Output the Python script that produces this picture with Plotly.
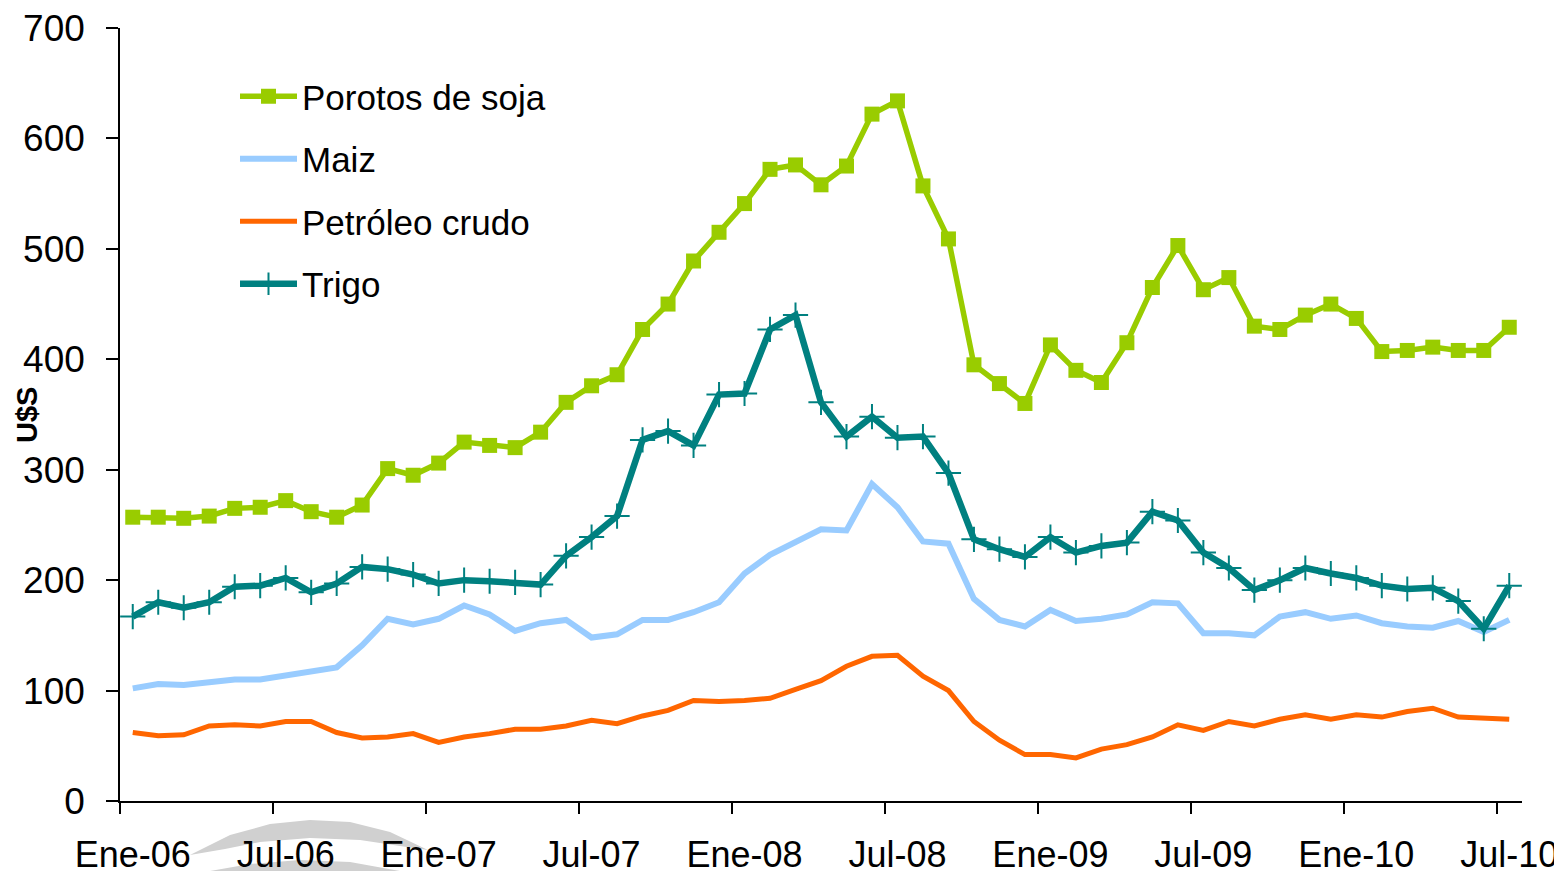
import plotly.graph_objects as go

# ---------------- data ----------------
years = ["06", "07", "08", "09", "10"]
month_names = ["Ene", "Feb", "Mar", "Abr", "May", "Jun", "Jul", "Ago", "Sep", "Oct", "Nov", "Dic"]
months = [f"{m}-{y}" for y in years for m in month_names][:55]  # Ene-06 .. Jul-10

soja = [257, 257, 256, 258, 265, 266, 272, 262, 257, 268, 301, 295,
        306, 325, 322, 320, 334, 361, 376, 386, 427, 450, 489, 515,
        541, 572, 576, 558, 575, 622, 634, 557, 509, 395, 378, 360,
        413, 390, 379, 415, 465, 503, 463, 474, 430, 427, 440, 450,
        437, 407, 408, 411, 408, 408, 429]

maiz = [102, 106, 105, 107, 110, 110, 114, 117, 121, 141, 165, 160,
        165, 177, 169, 154, 161, 164, 148, 151, 164, 164, 171, 180,
        206, 223, 235, 246, 245, 287, 266, 235, 233, 183, 164, 158,
        173, 163, 165, 169, 180, 179, 152, 152, 150, 167, 171, 165,
        168, 161, 158, 157, 163, 153, 164]

petroleo = [62, 59, 60, 68, 69, 68, 72, 72, 62, 57, 58, 61,
            53, 58, 61, 65, 65, 68, 73, 70, 77, 82, 91, 90,
            91, 93, 101, 109, 122, 131, 132, 113, 100, 72, 55, 42,
            42, 39, 47, 51, 58, 69, 64, 72, 68, 74, 78, 74,
            78, 76, 81, 84, 76, 75, 74]

trigo = [167, 180, 175, 180, 194, 195, 202, 189, 197, 212, 210, 205,
         197, 200, 199, 198, 196, 222, 239, 258, 327, 335, 322, 368,
         369, 427, 440, 361, 330, 348, 329, 330, 297, 237, 228, 221,
         239, 225, 231, 234, 262, 254, 225, 211, 191, 200, 211, 206,
         202, 195, 192, 193, 181, 156, 195]

series_names = ["Porotos de soja", "Maiz", "Petróleo crudo", "Trigo"]
y_ticks = [0, 100, 200, 300, 400, 500, 600, 700]
label_every = 6

# ---------------- figure ----------------
OFF = 8  # page body margin
W, H = 1562 - OFF, 871 - OFF
ML, MR, MT, MB = 120 - OFF, 40, 28 - OFF, 70
PW, PH = W - ML - MR, H - MT - MB
x = list(range(len(months)))
FONT = "Arial, 'Liberation Sans', sans-serif"

fig = go.Figure()
fig.add_trace(go.Scatter(
    x=x, y=soja, name=series_names[0], mode="lines+markers", legendgroup="a",
    line=dict(color="#99CC00", width=5.5),
    marker=dict(symbol="square", size=15, color="#99CC00")))
fig.add_trace(go.Scatter(
    x=x, y=maiz, name=series_names[1], mode="lines", legendgroup="b",
    line=dict(color="#99CCFF", width=6)))
fig.add_trace(go.Scatter(
    x=x, y=petroleo, name=series_names[2], mode="lines", legendgroup="c",
    line=dict(color="#FF6600", width=5)))
fig.add_trace(go.Scatter(
    x=x, y=trigo, name=series_names[3], mode="lines+markers", legendgroup="d",
    line=dict(color="#008080", width=6.5),
    marker=dict(symbol="cross-thin", size=18, color="#008080",
                line=dict(width=2, color="#008080"))))

tick_idx = x[::label_every]
fig.update_xaxes(
    range=[-0.5, len(months) - 0.5], automargin=False,
    tickmode="array", tickvals=tick_idx, ticktext=[months[i] for i in tick_idx],
    ticks="", showline=True, linecolor="black", linewidth=1.5,
    showgrid=False, zeroline=False, ticklabeloverflow="allow",
    tickfont=dict(family=FONT, size=36, color="black"),
    ticklabelstandoff=21,
    minor=dict(tickmode="array", tickvals=[i - 0.5 for i in tick_idx],
               ticks="outside", ticklen=11, tickcolor="black", tickwidth=1.5),
)
fig.update_yaxes(
    range=[0, 700], tickmode="array", tickvals=y_ticks, automargin=False,
    ticks="outside", ticklen=12, tickcolor="black", tickwidth=1.5,
    showline=True, linecolor="black", linewidth=1.5,
    showgrid=False, zeroline=False, ticklabeloverflow="allow",
    tickfont=dict(family=FONT, size=37, color="black"),
    ticklabelstandoff=14,
)

# watermark swoosh (decorative), given in screen pixels
def px(xp, yp):
    return (xp - OFF - ML) / PW, (MT + PH - (yp - OFF)) / PH

def path(points):
    s = ""
    for i, (a, b) in enumerate(points):
        X, Y = px(a, b)
        s += ("M" if i == 0 else " L") + f"{X:.4f},{Y:.4f}"
    return s + " Z"

swoosh1 = [(190, 855), (230, 835), (270, 824), (310, 820), (350, 822), (390, 832), (428, 850),
           (400, 846), (360, 840), (310, 838), (260, 842), (225, 849)]
swoosh2 = [(210, 871), (250, 864), (300, 860), (350, 862), (400, 871)]
shapes = []
for pts in (swoosh1, swoosh2):
    shapes.append(dict(type="path", path=path(pts), xref="paper", yref="paper",
                       fillcolor="#D0D0D0", line=dict(width=0), layer="below"))

fig.update_layout(
    width=W, height=H,
    margin=dict(l=ML, r=MR, t=MT, b=MB, autoexpand=False),
    plot_bgcolor="white", paper_bgcolor="white",
    shapes=shapes,
    legend=dict(x=px(235, 0)[0], y=px(0, 67)[1], xanchor="left", yanchor="top",
                font=dict(family=FONT, size=35, color="black"),
                bgcolor="rgba(0,0,0,0)", tracegroupgap=14, itemwidth=57,
                traceorder="grouped"),
    annotations=[dict(text="<b>U$S</b>", textangle=-90, xref="paper", yref="paper",
                      x=px(27, 0)[0], y=px(0, 415)[1],
                      xanchor="center", yanchor="middle", showarrow=False,
                      font=dict(family=FONT, size=29, color="black"))],
)

fig.write_html("out.html")
